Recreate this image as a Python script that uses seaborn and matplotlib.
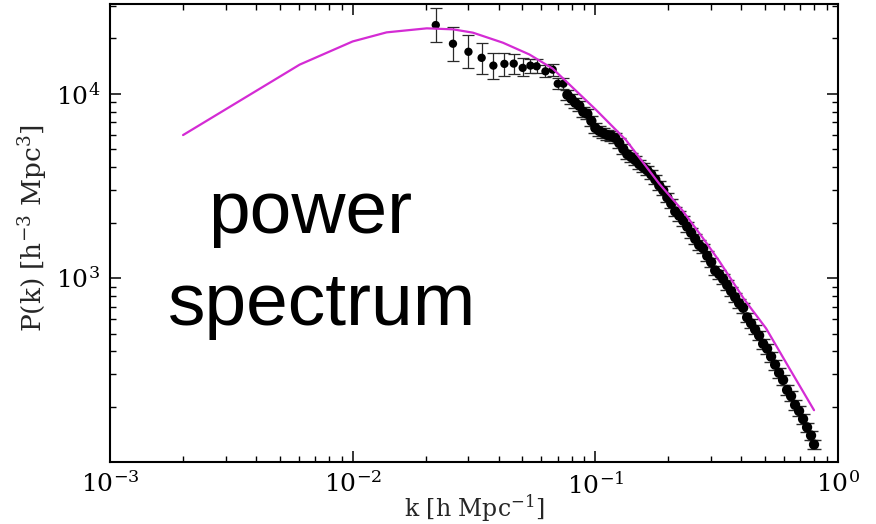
import numpy as np
import pandas as pd
import matplotlib
matplotlib.use("Agg")
import matplotlib.pyplot as plt
import seaborn as sns
from matplotlib.ticker import NullFormatter, FixedLocator, LogLocator

# ---------------- data ----------------
theory_k = [0.0020, 0.00605, 0.0100, 0.0138, 0.0202, 0.0259, 0.0313, 0.0416,
            0.0535, 0.0667, 0.0733, 0.1007, 0.1338, 0.1834, 0.2288, 0.2764,
            0.3239, 0.4104, 0.5056, 0.6286, 0.7965]
theory_P = [5970, 14400, 19230, 21540, 22650, 22370, 21460, 18930,
            16340, 13700, 12180, 8177, 5606, 3251, 2323, 1661,
            1238, 768, 533, 326, 192]

# large-scale points with individual error bars
low_k = [0.0220, 0.0259, 0.0300, 0.0340, 0.0380, 0.0422, 0.0461, 0.0502,
         0.0540, 0.0573, 0.0623, 0.0667, 0.0700, 0.0739]
low_P = [23600, 18690, 16900, 15670, 14220, 14530, 14580, 13820,
         14220, 14100, 13240, 13520, 11340, 11340]
low_P_lo = [19000, 15020, 13820, 12810, 12080, 12430, 12810, 12430,
            12970, 13000, 12390, 12540, 10650, 10650]
low_P_hi = [29140, 23150, 20830, 18920, 16690, 16690, 16340, 15730,
            15470, 15400, 14400, 14580, 12230, 12230]

# densely sampled small-scale points
dense_k = [0.0767, 0.0797, 0.0827, 0.0859, 0.0892, 0.0927, 0.0963, 0.1000,
           0.1039, 0.1079, 0.1120, 0.1164, 0.1209, 0.1255, 0.1304, 0.1354,
           0.1407, 0.1461, 0.1517, 0.1576, 0.1637, 0.1700, 0.1766, 0.1834,
           0.1905, 0.1979, 0.2055, 0.2134, 0.2217, 0.2302, 0.2391, 0.2484,
           0.2580, 0.2679, 0.2783, 0.2891, 0.3002, 0.3118, 0.3239, 0.3364,
           0.3494, 0.3629, 0.3769, 0.3914, 0.4066, 0.4223, 0.4386, 0.4555,
           0.4731, 0.4914, 0.5104, 0.5301, 0.5506, 0.5718, 0.5939, 0.6169,
           0.6407, 0.6655, 0.6912, 0.7179, 0.7456, 0.7743, 0.7965]
dense_P = [9870, 9390, 8930, 8600, 7970, 7780, 7120, 6520,
           6280, 6120, 5970, 5900, 5750, 5400, 5010, 4700,
           4530, 4360, 4150, 3990, 3840, 3650, 3430, 3180,
           2990, 2740, 2540, 2300, 2180, 2050, 1900, 1760,
           1630, 1510, 1450, 1320, 1220, 1100, 1050, 987,
           916, 849, 787, 730, 690, 612, 568, 526,
           488, 440, 414, 375, 339, 306, 280, 247,
           229, 205, 190, 172, 155, 140, 125]
dense_err_frac = 0.06

x_ticks = [1e-3, 1e-2, 1e-1, 1e0]
y_ticks = [1e3, 1e4]

# ---------------- figure ----------------
sns.set_theme(style="ticks")
plt.rcParams["font.family"] = ["DejaVu Serif"]
plt.rcParams["mathtext.fontset"] = "dejavuserif"

W, H = 876, 524
fig = plt.figure(figsize=(W / 100, H / 100), dpi=100)
fig.patch.set_facecolor("white")
ax = fig.add_axes([110 / W, 1 - 462 / H, 728 / W, 458 / H])
ax.set_facecolor("white")
ax.set_xscale("log")
ax.set_yscale("log")

low_df = pd.DataFrame({"k": low_k, "P": low_P})
dense_df = pd.DataFrame({"k": dense_k, "P": dense_P})
th_df = pd.DataFrame({"k": theory_k, "P": theory_P})

lo_err = np.array(low_P) - np.array(low_P_lo)
hi_err = np.array(low_P_hi) - np.array(low_P)
ax.errorbar(low_k, low_P, yerr=[lo_err, hi_err], fmt="none", ecolor="#2a2a2a",
            elinewidth=0.9, capsize=4.5, capthick=0.9, zorder=2)
dP = np.array(dense_P) * dense_err_frac
ax.errorbar(dense_k, dense_P, yerr=dP, fmt="none", ecolor="#2a2a2a",
            elinewidth=0.9, capsize=5, capthick=1.0, zorder=2)

sns.scatterplot(data=low_df, x="k", y="P", color="black", s=36,
                edgecolor="none", ax=ax, legend=False, zorder=3)
sns.scatterplot(data=dense_df, x="k", y="P", color="black", s=55,
                edgecolor="none", ax=ax, legend=False, zorder=3)
sns.lineplot(data=th_df, x="k", y="P", color="#d42bd4", lw=1.6,
             estimator=None, sort=False, ax=ax, zorder=4)

ax.set_xlim(1e-3, 1e0)
ax.set_ylim(100.5, 3.07e4)

ax.xaxis.set_major_locator(FixedLocator(x_ticks))
ax.yaxis.set_major_locator(FixedLocator(y_ticks))
ax.xaxis.set_minor_locator(LogLocator(base=10, subs=np.arange(2, 10), numticks=20))
ax.yaxis.set_minor_locator(LogLocator(base=10, subs=np.arange(2, 10), numticks=20))
ax.xaxis.set_minor_formatter(NullFormatter())
ax.yaxis.set_minor_formatter(NullFormatter())

ax.tick_params(which="both", direction="in", top=True, right=True,
               colors="black", labelsize=18)
ax.tick_params(which="major", length=8, width=1.1, pad=7)
ax.tick_params(which="minor", length=4.5, width=1.0)
for s in ax.spines.values():
    s.set_linewidth(1.5)
    s.set_color("black")

ax.set_xlabel(r"k [h Mpc$^{-1}$]", fontsize=17)
ax.set_ylabel(r"P(k) [h$^{-3}$ Mpc$^{3}$]", fontsize=19)
ax.xaxis.set_label_coords(0.5, -0.066)
ax.xaxis.label.set_va("top")
ax.yaxis.set_label_coords(-0.083, 0.51)

fig.text(208 / W, 1 - 233 / H, "power", fontsize=54, family="Liberation Sans",
         ha="left", va="baseline", color="black")
fig.text(168 / W, 1 - 325 / H, "spectrum", fontsize=54, family="Liberation Sans",
         ha="left", va="baseline", color="black")

fig.savefig("out.png", dpi=100, facecolor="white")
